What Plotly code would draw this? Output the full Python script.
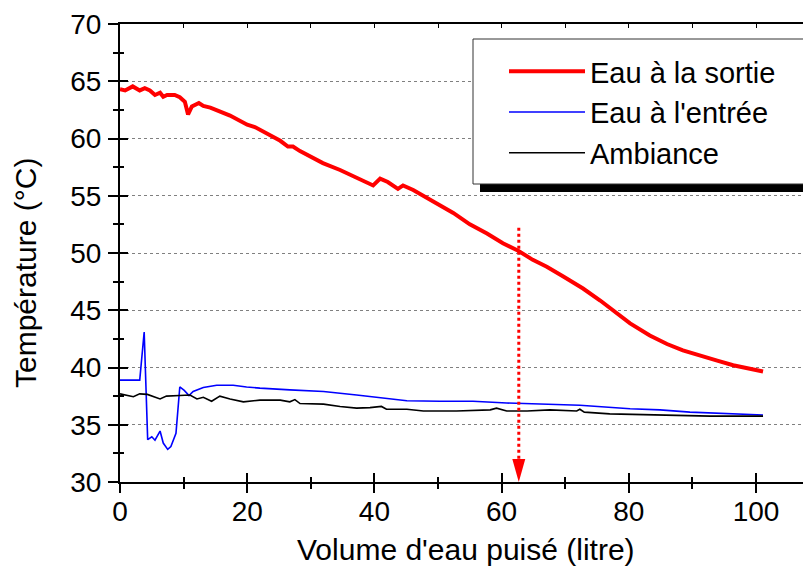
import plotly.graph_objects as go

# ---------------- data ----------------
sortie_x = [0, 0.8, 2.0, 3.1, 3.9, 4.7, 5.5, 6.3, 6.8, 7.4, 8.6, 9.4, 10.2, 10.7, 11.3, 12.4, 13.1,
            14.2, 17.3, 20.0, 21.2, 25.2, 26.4, 27.2, 28.3, 31.9, 34.6, 37.7, 39.8, 40.9, 42.1,
            43.7, 44.5, 46.1, 49.2, 52.4, 55.0, 57.7, 60.2, 62.6, 64.9, 67.1, 69.7, 72.8, 75.5,
            78.1, 80.2, 83.3, 86.0, 88.5, 90.7, 93.9, 96.4, 99.1, 101.1]
sortie_y = [64.3, 64.2, 64.55, 64.2, 64.4, 64.2, 63.8, 64.0, 63.65, 63.8, 63.8, 63.6, 63.2, 62.1,
            62.8, 63.1, 62.85, 62.7, 62.0, 61.2, 61.0, 59.8, 59.3, 59.3, 58.9, 57.85, 57.25, 56.5,
            55.9, 56.5, 56.2, 55.6, 55.9, 55.5, 54.5, 53.5, 52.5, 51.7, 50.85, 50.2, 49.4, 48.8,
            47.95, 46.9, 45.85, 44.7, 43.85, 42.8, 42.05, 41.5, 41.1, 40.6, 40.2, 39.85, 39.65]

entree_x = [0, 3.1, 3.8, 4.35, 5.0, 5.5, 6.3, 6.8, 7.5, 8.0, 8.8, 9.4, 10.1, 10.85, 11.5, 13.1,
            15.2, 17.8, 19.9, 22.0, 26.7, 32.0, 37.2, 42.5, 45.1, 50.3, 55.5, 60.8, 66.0, 72.3,
            80.2, 84.9, 89.6, 94.3, 101.1]
entree_y = [38.9, 38.9, 43.1, 33.7, 33.95, 33.65, 34.45, 33.4, 32.85, 33.1, 34.25, 38.3, 38.0,
            37.55, 37.9, 38.25, 38.45, 38.45, 38.3, 38.2, 38.05, 37.9, 37.6, 37.3, 37.1, 37.05,
            37.05, 36.9, 36.8, 36.7, 36.4, 36.3, 36.1, 36.0, 35.85]

amb_x = [0, 2.1, 3.1, 4.3, 6.3, 7.3, 9.4, 11.0, 12.1, 13.1, 14.4, 15.7, 17.3, 19.4, 22.0, 25.2,
         26.7, 27.5, 28.3, 32.0, 34.6, 37.2, 39.3, 41.1, 41.9, 45.1, 47.7, 52.9, 58.2, 59.2,
         60.8, 64.0, 67.6, 71.8, 72.3, 73.0, 77.0, 84.9, 92.8, 101.1]
amb_y = [37.7, 37.45, 37.7, 37.65, 37.25, 37.5, 37.55, 37.6, 37.25, 37.4, 37.05, 37.5, 37.25,
         37.0, 37.15, 37.15, 37.0, 37.2, 36.85, 36.8, 36.6, 36.45, 36.5, 36.6, 36.35, 36.35,
         36.2, 36.2, 36.3, 36.45, 36.2, 36.2, 36.3, 36.2, 36.35, 36.1, 35.95, 35.85, 35.75, 35.75]

series_names = ["Eau à la sortie", "Eau à l'entrée", "Ambiance"]
x_title = "Volume d'eau puisé (litre)"
y_title = "Température (°C)"

arrow_x = 62.7      # volume marked by the dotted arrow
arrow_top = 52.2

X_RANGE = [0, 109.9]
Y_RANGE = [30, 70]

FONT = "Liberation Sans, Arial, sans-serif"

# page offset (body margin) and plot-area geometry in figure pixels
OFF = 8
L, T, W, H = 112, 16, 699, 458

def px(xs):
    """screen x pixel -> paper x"""
    return (xs - OFF - L) / W

def py(ys):
    """screen y pixel -> paper y"""
    return (T + H - (ys - OFF)) / H

fig = go.Figure()
fig.add_trace(go.Scatter(x=sortie_x, y=sortie_y, mode="lines", name=series_names[0],
                         line=dict(color="#ff0000", width=4)))
fig.add_trace(go.Scatter(x=entree_x, y=entree_y, mode="lines", name=series_names[1],
                         line=dict(color="#0000ff", width=1.6)))
fig.add_trace(go.Scatter(x=amb_x, y=amb_y, mode="lines", name=series_names[2],
                         line=dict(color="#000000", width=1.6)))

# dotted arrow
fig.add_trace(go.Scatter(x=[arrow_x, arrow_x], y=[arrow_top, Y_RANGE[0] + 1.6], mode="lines",
                         line=dict(color="#ff0000", width=3, dash="dot"), showlegend=False,
                         hoverinfo="skip"))
head_h = 2.0
head_w = 1.02
fig.add_shape(type="path", xref="x", yref="y",
              path=f"M {arrow_x - head_w},{Y_RANGE[0] + head_h} L {arrow_x + head_w},{Y_RANGE[0] + head_h} L {arrow_x},{Y_RANGE[0]} Z",
              fillcolor="#ff0000", line=dict(color="#ff0000", width=0), layer="above")

# legend box with shadow
fig.add_shape(type="rect", xref="paper", yref="paper", x0=px(480), x1=1.1, y0=py(192), y1=py(44),
              fillcolor="black", line=dict(width=0), layer="above")
fig.add_shape(type="rect", xref="paper", yref="paper", x0=px(473), x1=1.1, y0=py(184), y1=py(39),
              fillcolor="white", line=dict(color="#333333", width=1), layer="above")

axis_common = dict(color="black", linecolor="black", tickcolor="black", zeroline=False)

fig.update_layout(
    width=811, height=575,
    margin=dict(l=L, r=811 - L - W, t=T, b=575 - T - H, pad=0),
    paper_bgcolor="white", plot_bgcolor="white",
    font=dict(family=FONT, size=28, color="black"),
    showlegend=True,
    legend=dict(x=px(504), y=py(46), xanchor="left", yanchor="top",
                bgcolor="rgba(0,0,0,0)", borderwidth=0, itemwidth=76,
                font=dict(family=FONT, size=29, color="black"),
                tracegroupgap=0),
    xaxis=dict(range=X_RANGE, showline=True, linewidth=2, ticks="outside", ticklen=9, tickwidth=2,
               dtick=20, tick0=0, showgrid=False, ticklabelstandoff=-6,
               minor=dict(ticks="outside", dtick=10, ticklen=5, tickwidth=2, showgrid=False),
               tickfont=dict(size=28), **axis_common),
    xaxis2=dict(range=X_RANGE, overlaying="x", anchor="y", side="bottom", showline=False,
                ticks="inside", ticklen=9, tickwidth=2, dtick=20, tick0=0, showgrid=False,
                showticklabels=False,
                minor=dict(ticks="inside", dtick=10, ticklen=5, tickwidth=2, showgrid=False),
                **axis_common),
    xaxis3=dict(range=X_RANGE, overlaying="x", anchor="y", side="top", showline=True, linewidth=2,
                ticks="inside", ticklen=4, tickwidth=1, dtick=10, tick0=0, showgrid=False,
                showticklabels=False, **axis_common),
    yaxis=dict(range=Y_RANGE, showline=True, linewidth=2, ticks="outside", ticklen=10, tickwidth=2,
               dtick=5, tick0=30, showgrid=True, gridcolor="#808080", gridwidth=1, griddash="dot",
               ticklabelstandoff=1,
               minor=dict(ticks="outside", dtick=2.5, ticklen=5, tickwidth=2, showgrid=False),
               tickfont=dict(size=28), **axis_common),
    yaxis2=dict(range=Y_RANGE, overlaying="y", anchor="x", side="left", showline=False,
                ticks="inside", ticklen=8, tickwidth=2, dtick=5, tick0=30, showgrid=False,
                showticklabels=False,
                minor=dict(ticks="inside", dtick=2.5, ticklen=4, tickwidth=2, showgrid=False),
                **axis_common),
    annotations=[
        dict(text=x_title, xref="paper", yref="paper", x=px(466), y=py(549), xanchor="center",
             yanchor="middle", showarrow=False, font=dict(family=FONT, size=30)),
        dict(text=y_title, xref="paper", yref="paper", x=px(25), y=py(273), xanchor="center",
             yanchor="middle", textangle=-90, showarrow=False, font=dict(family=FONT, size=30)),
    ],
)

# dummy traces to activate the overlay axes
fig.add_trace(go.Scatter(x=[None], y=[None], xaxis="x2", yaxis="y2", showlegend=False, hoverinfo="skip"))
fig.add_trace(go.Scatter(x=[None], y=[None], xaxis="x3", yaxis="y", showlegend=False, hoverinfo="skip"))

fig.write_html("out.html")
